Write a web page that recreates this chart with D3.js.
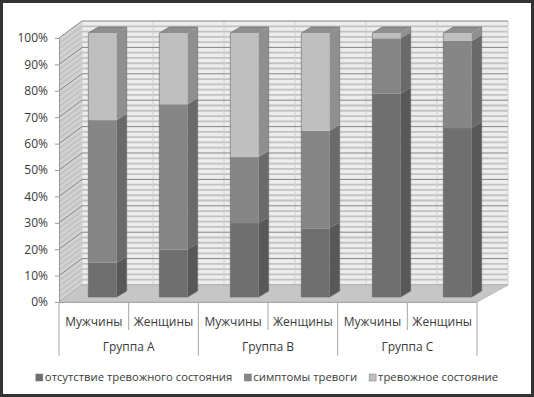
<!DOCTYPE html>
<html>
<head>
<meta charset="utf-8">
<script src="https://cdn.jsdelivr.net/npm/d3@7"></script>
<style>
  body { margin: 0; background: #fff; }
  text { font-family: 'Open Sans', sans-serif; fill: #3a3a3a; }
</style>
</head>
<body>
<div id="chart"></div>
<script>
// Data
const categories = ['Мужчины', 'Женщины', 'Мужчины', 'Женщины', 'Мужчины', 'Женщины'];
const groups = ['Группа A', 'Группа B', 'Группа C'];
const seriesNames = ['отсутствие тревожного состояния', 'симптомы тревоги', 'тревожное состояние'];
const noAnxiety = [13, 18, 28, 26, 77, 64];
const symptoms = [54, 55, 25, 37, 21, 33];
const anxiety = [33, 27, 47, 37, 2, 3];
const yTicks = [0, 10, 20, 30, 40, 50, 60, 70, 80, 90, 100];

const frontCol = ['#6f6f6f', '#868686', '#bfbfbf'];
const sideCol = ['#585858', '#6a6a6a', '#8f8f8f'];
const topCol = ['#7a7a7a', '#8a8a8a', '#8e8e8e'];

const W = 534, H = 397;
const svg = d3.select('#chart').append('svg')
    .attr('width', W)
    .attr('height', H);

// outer frame
svg.append('rect')
    .attr('x', 1.5).attr('y', 1.5)
    .attr('width', W - 3).attr('height', H - 3)
    .attr('fill', '#fff')
    .attr('stroke', '#333')
    .attr('stroke-width', 3);

// scales
const yFront = d3.scaleLinear().domain([0, 100]).range([302, 38]);
const yBack = d3.scaleLinear().domain([0, 100]).range([285, 21]);
const yBar = d3.scaleLinear().domain([0, 100]).range([297, 33]);
const xCat = d3.scaleBand().domain(d3.range(6)).range([59, 477]);
const xBack = d3.scaleLinear().domain([59, 477]).range([82, 508]);
const xBar = d3.scaleBand().domain(d3.range(6)).range([67, 493]).paddingInner(0.6).paddingOuter(0.3);
const bdx = 10, bdy = -6;

const pts = p => p.map(d => d.join(',')).join(' ');

// left side wall
svg.append('polygon')
    .attr('points', pts([[59, yFront(0)], [82, yBack(0)], [82, yBack(100)], [59, yFront(100)]]))
    .attr('fill', '#d2d2d2');

// back wall
svg.append('rect')
    .attr('x', 82).attr('y', yBack(100))
    .attr('width', xBack(477) - 82).attr('height', yBack(0) - yBack(100))
    .attr('fill', '#ededed');

// minor gridlines every 2%
const minor = d3.range(2, 100, 2).filter(v => v % 10 !== 0);
svg.append('g').selectAll('path')
    .data(minor)
    .enter().append('path')
    .attr('d', v => `M59,${yFront(v)}L82,${yBack(v)}H${xBack(477)}`)
    .attr('fill', 'none')
    .attr('stroke', '#c2c2c2')
    .attr('stroke-width', 1.8);

// vertical lines on back wall
svg.append('g').selectAll('line')
    .data(d3.range(7))
    .enter().append('line')
    .attr('x1', i => xBack(59 + i * xCat.bandwidth()))
    .attr('x2', i => xBack(59 + i * xCat.bandwidth()))
    .attr('y1', yBack(100)).attr('y2', yBack(0))
    .attr('stroke', '#d0d0d0');

// major gridlines
svg.append('g').selectAll('path')
    .data(yTicks)
    .enter().append('path')
    .attr('d', v => `M59,${yFront(v)}L82,${yBack(v)}H${xBack(477)}`)
    .attr('fill', 'none')
    .attr('stroke', '#858585')
    .attr('stroke-width', 1);

// floor
svg.append('polygon')
    .attr('points', pts([[59, yFront(0)], [477, yFront(0)], [xBack(477), yBack(0)], [82, yBack(0)]]))
    .attr('fill', '#c6c6c6')
    .attr('stroke', '#b8b8b8');

// y axis
const yAxis = svg.append('g')
    .attr('transform', 'translate(59,0)')
    .call(d3.axisLeft(yFront).tickValues(yTicks).tickFormat(d => d + '%').tickSize(4).tickPadding(7));
yAxis.select('.domain').attr('stroke', '#9a9a9a');
yAxis.selectAll('.tick line').attr('stroke', '#9a9a9a');
yAxis.selectAll('text').style('font-size', '12px').attr('fill', '#3a3a3a');

// stacked bars
const rows = categories.map((c, i) => ({ i: i, s0: noAnxiety[i], s1: symptoms[i], s2: anxiety[i] }));
const stack = d3.stack().keys(['s0', 's1', 's2']).offset(d3.stackOffsetExpand)(rows);

const bars = svg.append('g');
rows.forEach((r, i) => {
    const x0 = xBar(i), x1 = xBar(i) + xBar.bandwidth();
    const g = bars.append('g');
    stack.forEach((layer, k) => {
        const d = layer[i];
        const yb = yBar(d[0] * 100), yt = yBar(d[1] * 100);
        g.append('rect')
            .attr('x', x0).attr('y', yt)
            .attr('width', x1 - x0).attr('height', yb - yt)
            .attr('fill', frontCol[k]);
        g.append('polygon')
            .attr('points', pts([[x1, yb], [x1 + bdx, yb + bdy], [x1 + bdx, yt + bdy], [x1, yt]]))
            .attr('fill', sideCol[k]);
        if (k === stack.length - 1) {
            g.append('polygon')
                .attr('points', pts([[x0, yt], [x0 + bdx, yt + bdy], [x1 + bdx, yt + bdy], [x1, yt]]))
                .attr('fill', topCol[k]);
        }
    });
    // thin outline
    g.append('polygon')
        .attr('points', pts([[x0, yBar(0)], [x1, yBar(0)], [x1 + bdx, yBar(0) + bdy], [x1 + bdx, yBar(100) + bdy],
            [x0 + bdx, yBar(100) + bdy], [x0, yBar(100)]]))
        .attr('fill', 'none')
        .attr('stroke', '#666')
        .attr('stroke-width', 0.6);
});

// category axis
const cat = svg.append('g');
cat.append('line')
    .attr('x1', 59).attr('x2', 477)
    .attr('y1', 302.5).attr('y2', 302.5)
    .attr('stroke', '#a8a8a8');
d3.range(7).forEach(i => {
    const x = 59 + i * xCat.bandwidth();
    cat.append('line')
        .attr('x1', x).attr('x2', x)
        .attr('y1', 302).attr('y2', i % 2 === 0 ? 356 : 330)
        .attr('stroke', '#a8a8a8');
});
cat.selectAll('text.sub')
    .data(categories)
    .enter().append('text')
    .attr('class', 'sub')
    .attr('x', (d, i) => xCat(i) + xCat.bandwidth() / 2)
    .attr('y', 326)
    .attr('text-anchor', 'middle')
    .style('font-size', '12px')
    .text(d => d);
cat.selectAll('text.grp')
    .data(groups)
    .enter().append('text')
    .attr('class', 'grp')
    .attr('x', (d, i) => xCat(i * 2) + xCat.bandwidth())
    .attr('y', 351)
    .attr('text-anchor', 'middle')
    .style('font-size', '12px')
    .text(d => d);

// legend
const legend = svg.append('g');
let lx = 0;
seriesNames.forEach((name, k) => {
    const item = legend.append('g').attr('transform', `translate(${lx},0)`);
    item.append('rect')
        .attr('x', 0).attr('y', -7)
        .attr('width', 7).attr('height', 7)
        .attr('fill', frontCol[k])
        .attr('stroke', '#777')
        .attr('stroke-width', 0.5);
    const t = item.append('text')
        .attr('x', 9).attr('y', 0)
        .style('font-size', '11.3px')
        .text(name);
    lx += 9 + t.node().getComputedTextLength() + 12;
});
legend.attr('transform', `translate(${(W - (lx - 12)) / 2},381)`);
</script>
</body>
</html>
